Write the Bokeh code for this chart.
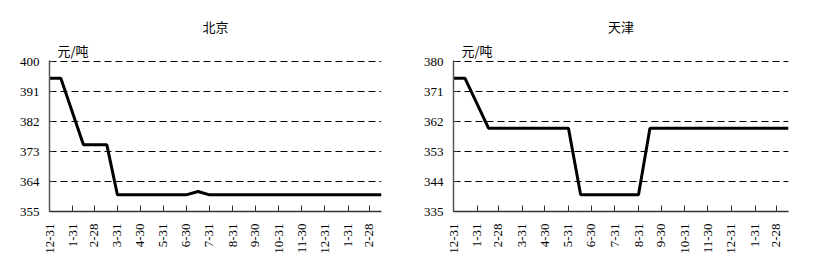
import pandas as pd
from bokeh.plotting import figure
from bokeh.layouts import row
from bokeh.models import FixedTicker, Title
from bokeh.embed import file_html
from bokeh.resources import INLINE
import math

# ---- data ----
start_date = "2012-12-31"
tick_dates = ["2012-12-31", "2013-01-31", "2013-02-28", "2013-03-31", "2013-04-30",
              "2013-05-31", "2013-06-30", "2013-07-31", "2013-08-31", "2013-09-30",
              "2013-10-31", "2013-11-30", "2013-12-31", "2014-01-31", "2014-02-28"]
tick_labels = ["12-31", "1-31", "2-28", "3-31", "4-30", "5-31", "6-30", "7-31",
               "8-31", "9-30", "10-31", "11-30", "12-31", "1-31", "2-28"]
end_date = "2014-03-16"

beijing_dates = ["2012-12-31", "2013-01-15", "2013-02-14", "2013-03-17", "2013-03-31",
                 "2013-06-30", "2013-07-16", "2013-07-31", "2014-03-16"]
beijing_price = [395, 395, 375, 375, 360, 360, 361, 360, 360]
beijing_yticks = [355, 364, 373, 382, 391, 400]

tianjin_dates = ["2012-12-31", "2013-01-15", "2013-02-15", "2013-05-31", "2013-06-16",
                 "2013-08-31", "2013-09-15", "2014-03-16"]
tianjin_price = [375, 375, 360, 360, 340, 340, 360, 360]
tianjin_yticks = [335, 344, 353, 362, 371, 380]

unit_label = "元/吨"
titles = ["北京", "天津"]

t0 = pd.Timestamp(start_date)
def days(lst):
    return [(pd.Timestamp(d) - t0).days for d in lst]

tick_days = days(tick_dates)
end_day = days([end_date])[0]

NUM_FONT = "Liberation Serif"
CJK_FONT = "Noto Sans CJK SC"


def make(title, dates, prices, yticks, width, left_border):
    ymin, ymax = yticks[0], yticks[-1]
    p = figure(width=width, height=276, output_backend="svg", toolbar_location=None,
               x_range=(0, end_day), y_range=(ymin, ymax + 0.3),
               min_border_left=left_border, min_border_right=29,
               min_border_top=60, min_border_bottom=65)
    p.outline_line_color = None
    p.background_fill_color = "white"
    p.border_fill_color = "white"
    p.xgrid.grid_line_color = None
    p.ygrid.grid_line_color = "black"
    p.ygrid.grid_line_dash = "7 4"
    p.ygrid.grid_line_width = 1
    p.ygrid.ticker = FixedTicker(ticks=yticks[1:])

    p.xaxis.ticker = FixedTicker(ticks=tick_days)
    p.xaxis.major_label_overrides = {d: l for d, l in zip(tick_days, tick_labels)}
    p.xaxis.major_label_orientation = math.pi / 2
    p.xaxis.minor_tick_line_color = None
    p.xaxis.major_tick_in = 6
    p.xaxis.major_tick_out = 0
    p.xaxis.major_label_standoff = 12
    p.xaxis.axis_line_width = 1.5
    p.xaxis.axis_line_color = "#333333"
    p.xaxis.major_tick_line_color = "#333333"

    p.yaxis.ticker = FixedTicker(ticks=yticks)
    p.yaxis.minor_tick_line_color = None
    p.yaxis.major_tick_in = 4
    p.yaxis.major_tick_out = 0
    p.yaxis.major_label_standoff = 10
    p.yaxis.axis_line_width = 1.5
    p.yaxis.axis_line_color = "#555555"
    p.yaxis.major_tick_line_color = "#333333"

    for ax in (p.xaxis, p.yaxis):
        ax.major_label_text_font = NUM_FONT
        ax.major_label_text_font_size = "13px"
        ax.major_label_text_color = "black"

    p.line(days(dates), prices, line_color="black", line_width=3)

    p.add_layout(Title(text=unit_label, align="left", offset=8, standoff=2,
                       text_font=CJK_FONT, text_font_size="13px",
                       text_font_style="normal", text_color="black"), "above")
    p.add_layout(Title(text=title, align="center", offset=-10, standoff=4,
                       text_font=CJK_FONT, text_font_size="13px",
                       text_font_style="normal", text_color="black"), "above")
    return p


p1 = make(titles[0], beijing_dates, beijing_price, beijing_yticks, 410, 49)
p2 = make(titles[1], tianjin_dates, tianjin_price, tianjin_yticks, 407, 43)
layout = row(p1, p2)

open("out.html", "w").write(file_html(layout, INLINE))
